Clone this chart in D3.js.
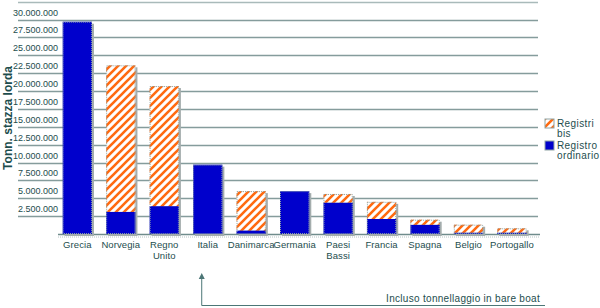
<!DOCTYPE html>
<meta charset="utf-8">
<script src="https://d3js.org/d3.v7.min.js"></script>
<style>
  body { margin: 0; background: #fff; }
  text { font-family: "Liberation Sans", Arial, sans-serif; fill: #1d4d4d; }
</style>
<div id="chart"></div>
<script>
// Data
var categories = ["Grecia", "Norvegia", "Regno Unito", "Italia", "Danimarca", "Germania",
                  "Paesi Bassi", "Francia", "Spagna", "Belgio", "Portogallo"];
var ordinario = [29700000, 3100000, 3900000, 9700000, 500000, 6000000, 4400000, 2100000, 1300000, 200000, 200000];
var bis       = [0, 20500000, 16800000, 0, 5500000, 0, 1200000, 2400000, 700000, 1100000, 600000];
var tickValues = [2500000, 5000000, 7500000, 10000000, 12500000, 15000000, 17500000,
                  20000000, 22500000, 25000000, 27500000, 30000000];
var seriesNames = ["Registri bis", "Registro ordinario"];

var width = 600, height = 308;
var blue = "#0000cc", orange = "#ff6a10";

var svg = d3.select("#chart").append("svg")
    .attr("width", width)
    .attr("height", height);

// Stripe pattern for "Registri bis"
var defs = svg.append("defs");
var pat = defs.append("pattern")
    .attr("id", "stripes")
    .attr("patternUnits", "userSpaceOnUse")
    .attr("width", 8).attr("height", 8);
pat.append("rect").attr("width", 8).attr("height", 8).attr("fill", "#fff");
pat.append("path")
    .attr("d", "M-2,2 L2,-2 M0,8 L8,0 M6,10 L10,6")
    .attr("stroke", orange)
    .attr("stroke-width", 2.6);

// Scales
var x = d3.scaleBand()
    .domain(categories)
    .range([55.6, 533.7])
    .paddingInner(0.326)
    .paddingOuter(0.163);

var y = d3.scaleLinear()
    .domain([0, 32500000])
    .range([234, 1.7]);

var fmt = d => d3.format(",")(d).replace(/,/g, ".");

// Gridlines
var gridVals = tickValues.concat([32500000]);
svg.append("g")
  .selectAll("line")
  .data(gridVals)
  .join("line")
    .attr("x1", 18).attr("x2", 538)
    .attr("y1", d => Math.round(y(d)) + 0.5)
    .attr("y2", d => Math.round(y(d)) + 0.5)
    .attr("stroke", d => d === 32500000 ? "#a9baba" : "#859c9c")
    .attr("stroke-width", 1.5);

// Tick labels (sit just above their gridline)
svg.append("g")
  .selectAll("text")
  .data(tickValues)
  .join("text")
    .attr("x", 58)
    .attr("y", d => y(d) - 4)
    .attr("text-anchor", "end")
    .attr("font-size", 9)
    .text(fmt);

// Baseline
svg.append("line")
    .attr("x1", 58).attr("x2", 540)
    .attr("y1", y(0) + 0.5).attr("y2", y(0) + 0.5)
    .attr("stroke", "#6f8c8c").attr("stroke-width", 1.5);
svg.append("line")
    .attr("x1", 58).attr("x2", 540)
    .attr("y1", y(0) + 3).attr("y2", y(0) + 3)
    .attr("stroke", "#b8c4c4").attr("stroke-width", 1)
    .attr("stroke-dasharray", "1,1");

// Bars: stack data
var rows = categories.map((c, i) => ({cat: c, ord: ordinario[i], bis: bis[i]}));
var bars = svg.append("g").selectAll("g")
  .data(rows)
  .join("g");

// shadow
bars.append("rect")
    .attr("x", d => x(d.cat) + 2)
    .attr("y", d => y(d.ord + d.bis) + 2)
    .attr("width", x.bandwidth())
    .attr("height", d => y(0) - y(d.ord + d.bis))
    .attr("fill", "#a4adad");

bars.append("rect")
    .attr("x", d => x(d.cat))
    .attr("y", d => y(d.ord))
    .attr("width", x.bandwidth())
    .attr("height", d => y(0) - y(d.ord))
    .attr("fill", blue);

bars.filter(d => d.bis > 0).append("rect")
    .attr("x", d => x(d.cat))
    .attr("y", d => y(d.ord + d.bis))
    .attr("width", x.bandwidth())
    .attr("height", d => y(d.ord) - y(d.ord + d.bis))
    .attr("fill", "url(#stripes)");

// dotted outline
bars.append("rect")
    .attr("x", d => x(d.cat) + 0.5)
    .attr("y", d => y(d.ord + d.bis) + 0.5)
    .attr("width", x.bandwidth() - 1)
    .attr("height", d => y(0) - y(d.ord + d.bis) - 1)
    .attr("fill", "none")
    .attr("stroke", "#8fa4a4")
    .attr("stroke-dasharray", "1,1");

// Category labels
svg.append("g")
  .selectAll("text")
  .data(categories)
  .join("text")
    .attr("x", d => x(d) + x.bandwidth() / 2)
    .attr("y", 248)
    .attr("text-anchor", "middle")
    .attr("font-size", 9.5)
    .attr("letter-spacing", 0.1)
    .each(function(d) {
      var parts = d.split(" ");
      d3.select(this).selectAll("tspan")
        .data(parts)
        .join("tspan")
          .attr("x", x(d) + x.bandwidth() / 2)
          .attr("dy", (p, i) => i ? 11 : 0)
          .text(p => p);
    });

// Y axis title
svg.append("text")
    .attr("transform", "translate(12,118) rotate(-90)")
    .attr("text-anchor", "middle")
    .attr("font-size", 12)
    .attr("font-weight", "bold")
    .text("Tonn. stazza lorda");

// Legend
var legend = svg.append("g").attr("transform", "translate(545,119)");
var legendItems = [
  {name: seriesNames[0], fill: "url(#stripes)", lines: ["Registri", "bis"]},
  {name: seriesNames[1], fill: blue, lines: ["Registro", "ordinario"]}
];
var li = legend.selectAll("g")
  .data(legendItems)
  .join("g")
    .attr("transform", (d, i) => `translate(0,${i * 22})`);
li.append("rect")
    .attr("width", 9).attr("height", 9)
    .attr("fill", d => d.fill)
    .attr("stroke", "#8fa4a4");
li.append("text")
    .attr("x", 12)
    .attr("y", 8)
    .attr("font-size", 10)
    .attr("letter-spacing", 0.4)
    .selectAll("tspan")
    .data(d => d.lines)
    .join("tspan")
      .attr("x", 12)
      .attr("dy", (p, i) => i ? 10 : 0)
      .text(p => p);

// Annotation arrow
var ax = x("Italia") + x.bandwidth() / 2 - 6;
svg.append("path")
    .attr("d", `M${ax},277 V305.5 H545`)
    .attr("fill", "none")
    .attr("stroke", "#4c7676")
    .attr("stroke-width", 1);
svg.append("path")
    .attr("d", `M${ax - 3},279 L${ax},273 L${ax + 3},279 Z`)
    .attr("fill", "#4c7676");
svg.append("text")
    .attr("x", 540)
    .attr("y", 302)
    .attr("text-anchor", "end")
    .attr("font-size", 10)
    .attr("letter-spacing", 0.3)
    .text("Incluso tonnellaggio in bare boat");
</script>
